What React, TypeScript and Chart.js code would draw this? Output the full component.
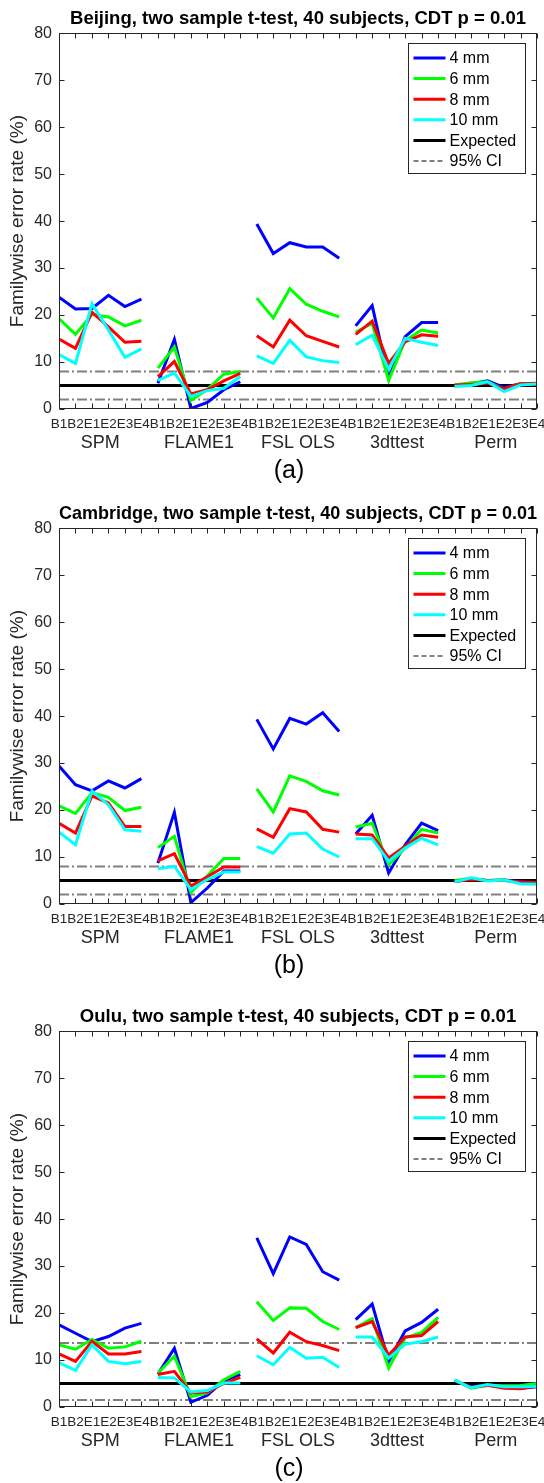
import React, { useEffect, useRef } from "react";
import { Chart, registerables } from "chart.js";
Chart.register(...registerables);

// ---- categories / labels ----
const groupNames = ["SPM", "FLAME1", "FSL OLS", "3dttest", "Perm"];
const tickLabels = ["B1", "B2", "E1", "E2", "E3", "E4"];
const seriesNames = ["4 mm", "6 mm", "8 mm", "10 mm"];
const yTickValues = [0, 10, 20, 30, 40, 50, 60, 70, 80];

// ---- (a) Beijing ----
const beijing4 = [23.8, 21.3, 21.4, 24.2, 21.8, 23.4, 5.5, 14.8, 0.1, 1.4, 4.1, 5.8, 39.4, 33.1, 35.4, 34.5, 34.5, 32.1, 17.7, 22.0, 6.5, 15.4, 18.4, 18.4, 4.9, 5.4, 6.0, 4.6, 5.4, 5.4];
const beijing6 = [19.2, 15.9, 20.1, 19.6, 17.7, 18.9, 8.7, 13.2, 1.8, 4.2, 7.4, 8.0, 23.6, 19.4, 25.6, 22.3, 20.8, 19.6, 16.4, 18.2, 6.1, 14.6, 16.8, 16.2, 5.1, 5.6, 5.8, 4.2, 5.4, 5.4];
const beijing8 = [14.9, 12.9, 20.6, 17.5, 14.2, 14.4, 6.9, 10.1, 3.2, 4.1, 6.0, 7.6, 15.6, 13.2, 18.9, 15.6, 14.4, 13.2, 15.9, 18.7, 9.7, 14.3, 15.8, 15.5, 5.1, 5.2, 5.5, 4.3, 5.4, 5.5];
const beijing10 = [11.6, 9.7, 22.4, 16.8, 11.0, 12.8, 6.1, 7.7, 2.7, 3.9, 4.4, 6.9, 11.3, 9.7, 14.6, 11.1, 10.3, 9.9, 13.7, 15.7, 8.5, 15.0, 14.2, 13.5, 4.8, 5.0, 5.8, 3.7, 5.1, 5.3];
const beijingCI = [2.0, 8.0];

// ---- (b) Cambridge ----
const cambridge4 = [29.4, 25.4, 24.1, 26.2, 24.7, 26.7, 8.7, 19.5, 0.3, 3.4, 7.0, 7.0, 39.3, 33.0, 39.5, 38.3, 40.7, 36.7, 14.9, 18.9, 6.6, 12.6, 17.2, 15.6, 4.8, 5.3, 5.0, 5.1, 4.8, 4.5];
const cambridge6 = [20.9, 19.3, 23.7, 22.7, 19.9, 20.6, 12.0, 14.4, 2.4, 6.0, 9.7, 9.7, 24.5, 19.6, 27.3, 26.1, 24.1, 23.2, 16.4, 17.2, 8.4, 11.9, 15.9, 15.1, 5.0, 5.5, 5.0, 5.1, 4.5, 4.4];
const cambridge8 = [17.2, 15.1, 23.0, 21.5, 16.5, 16.5, 9.2, 10.7, 3.8, 5.8, 7.9, 7.9, 16.0, 14.2, 20.3, 19.6, 15.9, 15.3, 14.9, 14.7, 9.8, 12.3, 14.7, 14.2, 4.8, 5.2, 5.0, 5.0, 4.7, 4.5];
const cambridge10 = [15.3, 12.6, 24.1, 21.1, 15.8, 15.5, 7.5, 8.0, 3.1, 5.2, 6.8, 6.8, 12.2, 10.8, 14.9, 15.1, 11.7, 10.0, 13.9, 13.9, 9.1, 11.9, 14.0, 12.6, 4.7, 5.6, 4.9, 5.1, 4.3, 4.2];
const cambridgeCI = [2.0, 8.0];

// ---- (c) Oulu ----
const oulu4 = [17.5, 15.7, 13.9, 15.0, 16.8, 17.8, 7.0, 12.5, 1.0, 2.5, 5.6, 6.9, 36.0, 28.4, 36.2, 34.6, 28.8, 27.0, 18.6, 21.9, 9.7, 16.2, 18.0, 20.8, 5.5, 4.3, 4.7, 4.2, 4.0, 4.3];
const oulu6 = [13.2, 12.3, 14.4, 12.5, 12.8, 14.0, 7.2, 10.8, 2.2, 3.0, 5.8, 7.6, 22.4, 18.4, 21.1, 21.0, 18.2, 16.5, 16.9, 18.8, 8.3, 14.7, 15.9, 19.1, 5.8, 4.0, 4.6, 4.5, 4.6, 5.0];
const oulu8 = [11.3, 9.7, 14.0, 11.3, 11.3, 11.8, 6.9, 7.6, 3.0, 3.2, 5.0, 6.3, 14.5, 11.5, 15.9, 13.9, 13.1, 12.0, 16.9, 18.2, 11.0, 14.9, 15.2, 18.2, 5.6, 4.2, 4.6, 4.0, 3.9, 4.5];
const oulu10 = [9.4, 7.8, 13.2, 9.7, 9.2, 9.7, 6.3, 6.2, 3.2, 3.5, 5.1, 5.1, 10.9, 9.0, 12.7, 10.4, 10.6, 8.4, 14.9, 14.9, 10.4, 13.4, 13.9, 14.9, 5.7, 4.1, 4.8, 4.3, 4.3, 4.4];
const ouluCI = [1.5, 13.6];

const expectedRate = 5;

const COLORS = ["#0000ff", "#00ff00", "#ff0000", "#00ffff"];
const AXIS = "#262626";
const FONT = "'Liberation Sans', Arial, Helvetica, sans-serif";
const CI_DASH = [10, 3, 2, 3];

const framePlugin = {
  id: "matlabFrame",
  afterDatasetsDraw(chart: any) {
    const { ctx, chartArea: a, scales } = chart;
    const xs = scales.x;
    const ys = scales.y;
    ctx.save();
    ctx.strokeStyle = AXIS;
    ctx.lineWidth = 1;
    const L = Math.round(a.left) + 0.5;
    const R = Math.round(a.right) - 0.5;
    const T = Math.round(a.top) + 0.5;
    const B = Math.round(a.bottom) - 0.5;
    ctx.strokeRect(L, T, R - L, B - T);
    ctx.beginPath();
    for (let v = 1; v <= 30; v++) {
      const x = Math.round(xs.getPixelForValue(v)) + 0.5;
      ctx.moveTo(x, B);
      ctx.lineTo(x, B - 5);
      ctx.moveTo(x, T);
      ctx.lineTo(x, T + 5);
    }
    yTickValues.forEach((v) => {
      const y = Math.round(ys.getPixelForValue(v)) + 0.5;
      ctx.moveTo(L, y);
      ctx.lineTo(L + 5, y);
      ctx.moveTo(R, y);
      ctx.lineTo(R - 5, y);
    });
    ctx.stroke();
    ctx.restore();
  },
  afterDraw(chart: any, _args: any, opts: any) {
    const { ctx, chartArea: a, scales } = chart;
    const xs = scales.x;
    ctx.save();
    // group labels
    ctx.fillStyle = AXIS;
    ctx.font = `18px ${FONT}`;
    ctx.textAlign = "center";
    ctx.textBaseline = "middle";
    groupNames.forEach((g, i) => {
      ctx.fillText(g, xs.getPixelForValue(i * 6 + 3.5), a.bottom + 34);
    });
    // caption
    ctx.fillStyle = "#000";
    ctx.font = `25px ${FONT}`;
    ctx.fillText(opts.caption, 289, a.bottom + 62);

    // legend box
    const bw = 117;
    const bh = 130;
    const bx = Math.round(a.right - 12 - bw) + 0.5;
    const by = Math.round(a.top + 10) + 0.5;
    ctx.fillStyle = "#fff";
    ctx.fillRect(bx, by, bw, bh);
    ctx.strokeStyle = AXIS;
    ctx.lineWidth = 1;
    ctx.strokeRect(bx, by, bw, bh);
    const entries = [
      ...seriesNames.map((n, i) => ({ n, c: COLORS[i], w: 3, d: [] as number[] })),
      { n: "Expected", c: "#000", w: 3, d: [] as number[] },
      { n: "95% CI", c: "#808080", w: 2, d: [5, 3] },
    ];
    ctx.font = `16px ${FONT}`;
    ctx.textAlign = "left";
    entries.forEach((e, i) => {
      const cy = by + 14.5 + i * 20.6;
      ctx.beginPath();
      ctx.setLineDash(e.d);
      ctx.strokeStyle = e.c;
      ctx.lineWidth = e.w;
      ctx.moveTo(bx + 5, cy);
      ctx.lineTo(bx + 37, cy);
      ctx.stroke();
      ctx.setLineDash([]);
      ctx.fillStyle = "#000";
      ctx.fillText(e.n, bx + 41, cy + 1);
    });
    ctx.restore();
  },
};

type PanelProps = {
  title: string;
  caption: string;
  series: number[][];
  ci: number[];
  height: number;
  titleTop: number;
  bottomH: number;
};

function Panel({ title, caption, series, ci, height, titleTop, bottomH }: PanelProps) {
  const ref = useRef<HTMLCanvasElement>(null);
  useEffect(() => {
    if (!ref.current) return;
    const pts = (vals: number[]) => vals.map((v, i) => ({ x: i + 1, y: v }));
    const flat = (v: number) => [
      { x: 1, y: v },
      { x: 30, y: v },
    ];
    const datasets: any[] = series.map((vals, i) => ({
      label: seriesNames[i],
      data: pts(vals),
      borderColor: COLORS[i],
      backgroundColor: COLORS[i],
      borderWidth: 3,
      pointRadius: 0,
      tension: 0,
      order: 5 - i,
      segment: {
        borderColor: (c: any) => (c.p0DataIndex % 6 === 5 ? "rgba(0,0,0,0)" : COLORS[i]),
      },
    }));
    datasets.push({
      label: "Expected",
      data: flat(expectedRate),
      borderColor: "#000",
      borderWidth: 3,
      pointRadius: 0,
      order: 8,
    });
    ci.forEach((v, k) => {
      datasets.push({
        label: k === 0 ? "95% CI" : "95% CI upper",
        data: flat(v),
        borderColor: "#808080",
        borderWidth: 2,
        borderDash: CI_DASH,
        pointRadius: 0,
        order: 9,
      });
    });

    const chart = new Chart(ref.current, {
      type: "line",
      data: { datasets },
      plugins: [framePlugin as any],
      options: {
        responsive: false,
        animation: false,
        devicePixelRatio: 1,
        layout: { padding: { left: 0, right: 7, top: 0, bottom: 0 } },
        plugins: {
          legend: { display: false },
          tooltip: { enabled: false },
          title: {
            display: true,
            text: title,
            fullSize: false,
            color: "#000",
            font: { family: FONT, size: 18.5, weight: "bold" },
            padding: { top: titleTop, bottom: 3 },
          },
          matlabFrame: { caption },
        } as any,
        scales: {
          x: {
            type: "linear",
            min: 1,
            max: 30,
            grid: { display: false, drawTicks: false, tickLength: 0 },
            border: { display: false },
            afterBuildTicks: (s: any) => {
              const t: any[] = [];
              for (let v = 1; v <= 30; v++) t.push({ value: v });
              s.ticks = t;
            },
            afterFit: (s: any) => {
              s.height = bottomH;
              s.paddingLeft = 0;
              s.paddingRight = 0;
            },
            ticks: {
              stepSize: 1,
              autoSkip: false,
              maxRotation: 0,
              minRotation: 0,
              padding: 7,
              color: AXIS,
              font: { family: FONT, size: 13.5 },
              callback: (v: any) => tickLabels[(Math.round(Number(v)) - 1) % 6],
            },
          },
          y: {
            type: "linear",
            min: 0,
            max: 80,
            grid: { display: false, drawTicks: false, tickLength: 0 },
            border: { display: false },
            afterFit: (s: any) => {
              s.width = 59;
              s.paddingTop = 0;
              s.paddingBottom = 0;
            },
            ticks: {
              stepSize: 10,
              padding: 7,
              color: AXIS,
              font: { family: FONT, size: 16 },
            },
            title: {
              display: true,
              text: "Familywise error rate (%)",
              color: AXIS,
              font: { family: FONT, size: 19 },
              padding: { top: 6, bottom: 0 },
            },
          },
        },
      } as any,
    });
    return () => chart.destroy();
  }, []);
  return (
    <canvas
      ref={ref}
      width={544}
      height={height}
      style={{ display: "block", width: 544, height }}
    />
  );
}

export default function App() {
  return (
    <div style={{ position: "absolute", left: 0, top: 0, width: 544, height: 1483, background: "#fff" }}>
      <Panel
        title="Beijing, two sample t-test, 40 subjects, CDT p = 0.01"
        caption="(a)"
        series={[beijing4, beijing6, beijing8, beijing10]}
        ci={beijingCI}
        height={497}
        titleTop={8}
        bottomH={88}
      />
      <Panel
        title="Cambridge, two sample t-test, 40 subjects, CDT p = 0.01"
        caption="(b)"
        series={[cambridge4, cambridge6, cambridge8, cambridge10]}
        ci={cambridgeCI}
        height={497}
        titleTop={6}
        bottomH={90}
      />
      <Panel
        title="Oulu, two sample t-test, 40 subjects, CDT p = 0.01"
        caption="(c)"
        series={[oulu4, oulu6, oulu8, oulu10]}
        ci={ouluCI}
        height={489}
        titleTop={12}
        bottomH={76}
      />
    </div>
  );
}
